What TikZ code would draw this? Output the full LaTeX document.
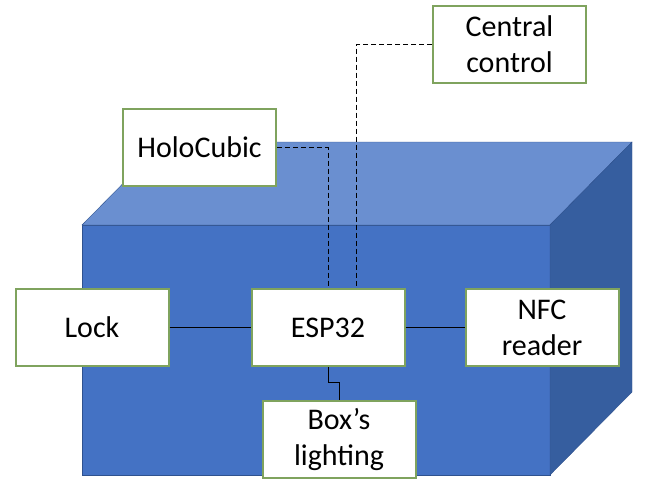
\documentclass[tikz,border=0pt]{standalone}
\usepackage{fontspec}
\setmainfont{Carlito}
\definecolor{frontblue}{HTML}{4472C4}
\definecolor{topblue}{HTML}{6A8FD0}
\definecolor{sideblue}{HTML}{365E9F}
\definecolor{edgeblue}{HTML}{2F528F}
\definecolor{partgreen}{HTML}{7FA35E}

\begin{document}
\begin{tikzpicture}[
  x=1pt, y=-1pt,
  part/.style={draw=partgreen, line width=2pt, fill=white, minimum width=153pt,
    minimum height=77pt, inner sep=0pt, align=center,
    font=\fontsize{30}{36}\selectfont},
  link/.style={line width=0.8pt},
  remote/.style={line width=0.8pt, dash pattern=on 5pt off 3pt}
  ]
\useasboundingbox (0,0) rectangle (648,493);
% the box
\draw [edgeblue, fill=frontblue] (82,225) rectangle (550,475);
\draw [edgeblue, fill=topblue] (82,225) -- (164,142) -- (632,142) -- (550,225) -- cycle;
\draw [edgeblue, fill=sideblue] (550,225) -- (632,142) -- (632,392) -- (550,475) -- cycle;
% parts
\node [part] (central) at (509.5,44.5) {Central\\control};
\node [part] (holo) at (199.5,147.5) {HoloCubic};
\node [part] (lock) at (92,327.5) {Lock};
\node [part] (esp) at (328,327.5) {ESP32};
\node [part] (nfc) at (542,327.5) {NFC\\reader};
\node [part] (light) at (339,439) {Box's\\lighting};
% wiring
\draw [link] (lock) -- (esp);
\draw [link] (esp) -- (nfc);
\draw [link] (esp.south) -- ++(0,15) -| (light.north);
\draw [remote] (holo.east) -| (esp.north);
\draw [remote] (central.west) -| ([xshift=28pt]esp.north);
\end{tikzpicture}
\end{document}
